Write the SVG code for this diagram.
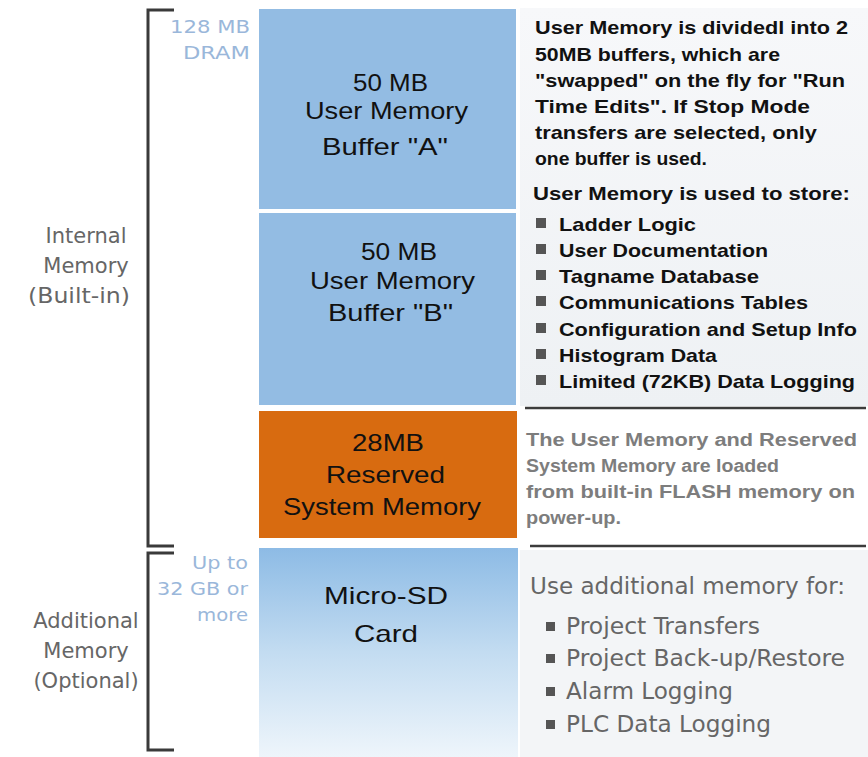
<svg xmlns="http://www.w3.org/2000/svg" width="868" height="757" viewBox="0 0 868 757">
<defs>
<linearGradient id="sdGrad" x1="0" y1="0" x2="0" y2="1">
<stop offset="0" stop-color="#8dbbe5"/>
<stop offset="0.5" stop-color="#c3dcf1"/>
<stop offset="1" stop-color="#eef5fb"/>
</linearGradient>
<linearGradient id="panelGrad" x1="0" y1="0" x2="0" y2="1">
<stop offset="0" stop-color="#f7f8fa"/>
<stop offset="1" stop-color="#eef1f4"/>
</linearGradient>
</defs>
<style>
.bracket{fill:none;stroke:#3a3a3a;stroke-width:3}
.sep{stroke:#3c3c3c;stroke-width:2.5}
.side{font-family:"DejaVu Sans",Verdana,sans-serif;font-size:21px;fill:#666;text-anchor:middle}
.cap{font-family:"DejaVu Sans",Verdana,sans-serif;font-size:17px;fill:#9ab7da}
.box{font-family:"Liberation Sans",Arial,sans-serif;font-size:24px;fill:#111}
.note{font-family:"Liberation Sans",Arial,sans-serif;font-size:19px;font-weight:bold;fill:#111}
.grey{font-family:"Liberation Sans",Arial,sans-serif;font-size:18px;font-weight:bold;fill:#7d7d7d}
.use{font-family:"DejaVu Sans Condensed","DejaVu Sans",sans-serif;font-size:23px;fill:#666}
.bul{fill:#555}
</style>
<rect width="868" height="757" fill="#ffffff"/>
<rect x="520" y="8" width="348" height="398" fill="url(#panelGrad)"/>
<rect x="520" y="550" width="348" height="207" fill="#f3f5f7"/>

<g id="brackets">
<polyline class="bracket" points="174,10 148,10 148,546 174,546"/>
<polyline class="bracket" points="174,553 148,553 148,750 174,750"/>
</g>

<g id="label-internal">
<text class="side" x="86" y="243">Internal</text>
<text class="side" x="86" y="273">Memory</text>
<text class="side" x="79" y="303" textLength="102" lengthAdjust="spacingAndGlyphs">(Built-in)</text>
</g>
<g id="label-additional">
<text class="side" x="86" y="628">Additional</text>
<text class="side" x="86" y="658">Memory</text>
<text class="side" x="86" y="688">(Optional)</text>
</g>
<g id="label-dram">
<text class="cap" x="170" y="33" textLength="80" lengthAdjust="spacingAndGlyphs">128 MB</text>
<text class="cap" x="183" y="59" textLength="67" lengthAdjust="spacingAndGlyphs">DRAM</text>
</g>
<g id="label-sd">
<text class="cap" x="192" y="569" textLength="56" lengthAdjust="spacingAndGlyphs">Up to</text>
<text class="cap" x="157" y="595" textLength="91" lengthAdjust="spacingAndGlyphs">32 GB or</text>
<text class="cap" x="197" y="621" textLength="51" lengthAdjust="spacingAndGlyphs">more</text>
</g>

<g id="bufferA">
<rect x="259" y="9" width="257" height="200" fill="#93bce3"/>
<text class="box" x="353" y="91" textLength="75" lengthAdjust="spacingAndGlyphs">50 MB</text>
<text class="box" x="305" y="119" textLength="163" lengthAdjust="spacingAndGlyphs">User Memory</text>
<text class="box" x="322" y="155" textLength="126" lengthAdjust="spacingAndGlyphs">Buffer "A"</text>
</g>
<g id="bufferB">
<rect x="259" y="213" width="257" height="192" fill="#93bce3"/>
<text class="box" x="361" y="260" textLength="76" lengthAdjust="spacingAndGlyphs">50 MB</text>
<text class="box" x="310" y="289" textLength="165" lengthAdjust="spacingAndGlyphs">User Memory</text>
<text class="box" x="328" y="321" textLength="125" lengthAdjust="spacingAndGlyphs">Buffer "B"</text>
</g>
<g id="reserved">
<rect x="259" y="411" width="258" height="127" fill="#d86b10"/>
<text class="box" x="352" y="451" textLength="72" lengthAdjust="spacingAndGlyphs">28MB</text>
<text class="box" x="326" y="483" textLength="119" lengthAdjust="spacingAndGlyphs">Reserved</text>
<text class="box" x="283" y="515" textLength="198" lengthAdjust="spacingAndGlyphs">System Memory</text>
</g>
<g id="microsd">
<rect x="259" y="548" width="259" height="209" fill="url(#sdGrad)"/>
<text class="box" x="324" y="604" textLength="124" lengthAdjust="spacingAndGlyphs">Micro-SD</text>
<text class="box" x="354" y="642" textLength="64" lengthAdjust="spacingAndGlyphs">Card</text>
</g>

<g id="separators">
<line class="sep" x1="525" y1="408" x2="866" y2="408"/>
<line class="sep" x1="530" y1="546" x2="866" y2="546"/>
</g>

<g id="note-user">
<text class="note" x="535" y="34" textLength="313" lengthAdjust="spacingAndGlyphs">User Memory is dividedl into 2</text>
<text class="note" x="535" y="61" textLength="245" lengthAdjust="spacingAndGlyphs">50MB buffers, which are</text>
<text class="note" x="535" y="87" textLength="310" lengthAdjust="spacingAndGlyphs">"swapped" on the fly for "Run</text>
<text class="note" x="535" y="113" textLength="275" lengthAdjust="spacingAndGlyphs">Time Edits".  If Stop Mode</text>
<text class="note" x="535" y="139" textLength="282" lengthAdjust="spacingAndGlyphs">transfers are selected, only</text>
<text class="note" x="535" y="165" textLength="172" lengthAdjust="spacingAndGlyphs">one buffer is used.</text>
<text class="note" x="533" y="200" textLength="317" lengthAdjust="spacingAndGlyphs">User Memory is used to store:</text>
<g class="bul">
<rect x="536" y="218" width="10" height="10"/>
<rect x="536" y="244" width="10" height="10"/>
<rect x="536" y="270" width="10" height="10"/>
<rect x="536" y="296" width="10" height="10"/>
<rect x="536" y="323" width="10" height="10"/>
<rect x="536" y="349" width="10" height="10"/>
<rect x="536" y="375" width="10" height="10"/>
</g>
<text class="note" x="559" y="231" textLength="137" lengthAdjust="spacingAndGlyphs">Ladder Logic</text>
<text class="note" x="559" y="257" textLength="209" lengthAdjust="spacingAndGlyphs">User Documentation</text>
<text class="note" x="559" y="283" textLength="200" lengthAdjust="spacingAndGlyphs">Tagname Database</text>
<text class="note" x="559" y="309" textLength="249" lengthAdjust="spacingAndGlyphs">Communications Tables</text>
<text class="note" x="559" y="336" textLength="298" lengthAdjust="spacingAndGlyphs">Configuration and Setup Info</text>
<text class="note" x="559" y="362" textLength="158" lengthAdjust="spacingAndGlyphs">Histogram Data</text>
<text class="note" x="559" y="388" textLength="296" lengthAdjust="spacingAndGlyphs">Limited (72KB) Data Logging</text>
</g>

<g id="note-reserved">
<text class="grey" x="526" y="446" textLength="331" lengthAdjust="spacingAndGlyphs">The User Memory and Reserved</text>
<text class="grey" x="526" y="472" textLength="253" lengthAdjust="spacingAndGlyphs">System Memory are loaded</text>
<text class="grey" x="526" y="498" textLength="329" lengthAdjust="spacingAndGlyphs">from built-in FLASH memory on</text>
<text class="grey" x="526" y="524" textLength="95" lengthAdjust="spacingAndGlyphs">power-up.</text>
</g>

<g id="note-sd">
<text class="use" x="530" y="594" textLength="315" lengthAdjust="spacingAndGlyphs">Use additional memory for:</text>
<g class="bul">
<rect x="546" y="622" width="9" height="9"/>
<rect x="546" y="654" width="9" height="9"/>
<rect x="546" y="687" width="9" height="9"/>
<rect x="546" y="720" width="9" height="9"/>
</g>
<text class="use" x="566" y="634" textLength="194" lengthAdjust="spacingAndGlyphs">Project Transfers</text>
<text class="use" x="566" y="666" textLength="279" lengthAdjust="spacingAndGlyphs">Project Back-up/Restore</text>
<text class="use" x="566" y="699" textLength="167" lengthAdjust="spacingAndGlyphs">Alarm Logging</text>
<text class="use" x="566" y="732" textLength="205" lengthAdjust="spacingAndGlyphs">PLC Data Logging</text>
</g>
</svg>
